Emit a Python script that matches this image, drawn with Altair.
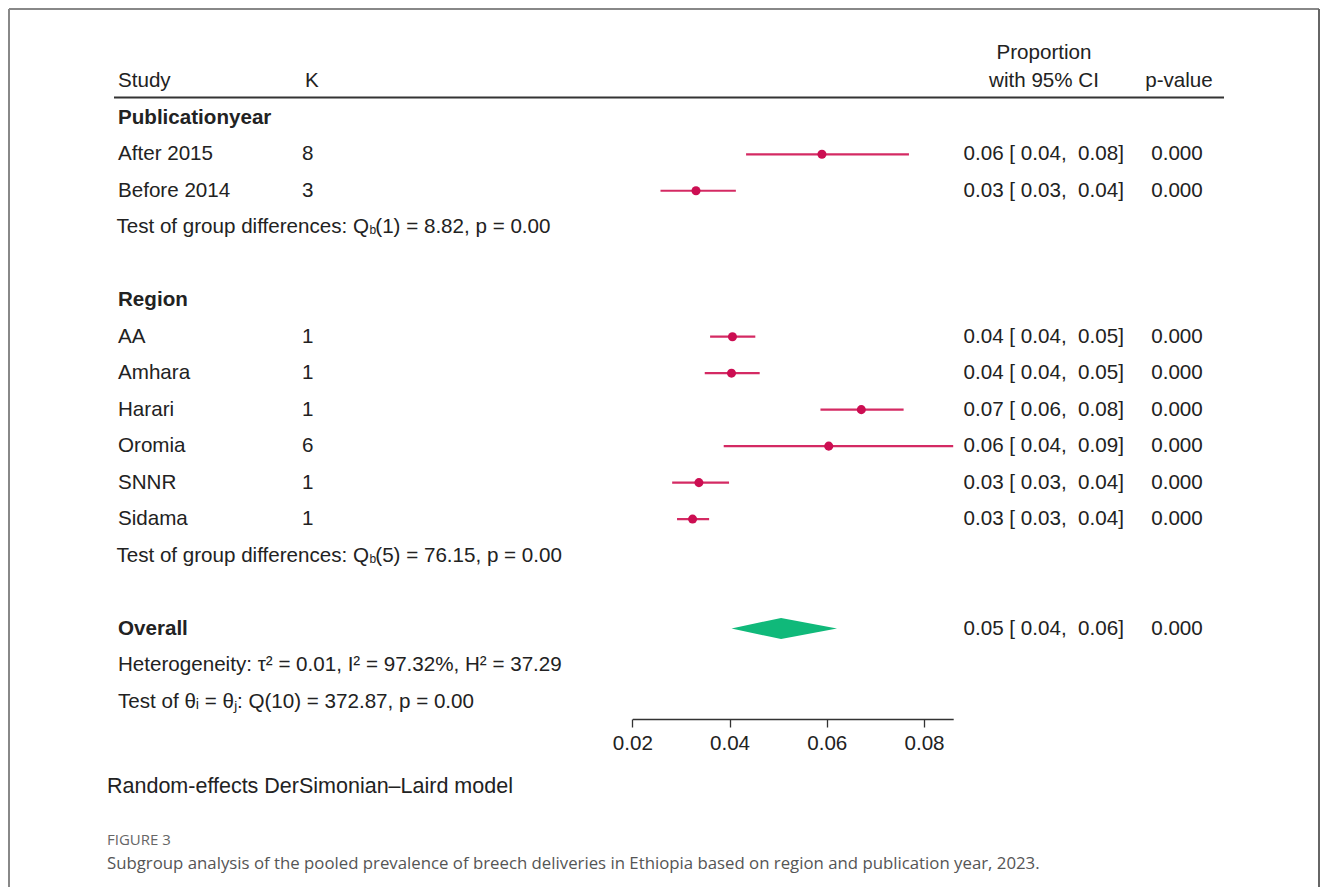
import altair as alt
import pandas as pd

# ---- data ----
study = ["After 2015", "Before 2014", "AA", "Amhara", "Harari", "Oromia", "SNNR", "Sidama"]
k_val = ["8", "3", "1", "1", "1", "6", "1", "1"]
est = [0.0590, 0.0331, 0.0406, 0.0404, 0.0671, 0.0604, 0.0337, 0.0324]
lo = [0.0434, 0.0258, 0.0360, 0.0349, 0.0587, 0.0388, 0.0282, 0.0292]
hi = [0.0769, 0.0413, 0.0453, 0.0462, 0.0758, 0.0890, 0.0399, 0.0358]
NB = "\u00a0"
ci_text = [f"0.06 [ 0.04,{NB}{NB}0.08]", f"0.03 [ 0.03,{NB}{NB}0.04]", f"0.04 [ 0.04,{NB}{NB}0.05]",
           f"0.04 [ 0.04,{NB}{NB}0.05]", f"0.07 [ 0.06,{NB}{NB}0.08]", f"0.06 [ 0.04,{NB}{NB}0.09]",
           f"0.03 [ 0.03,{NB}{NB}0.04]", f"0.03 [ 0.03,{NB}{NB}0.04]"]
p_text = ["0.000"] * 8
study_row = [1, 2, 6, 7, 8, 9, 10, 11]

group_heads = ["Publicationyear", "Region", "Overall"]
group_rows = [0, 5, 14]

test_pre = ["Test of group differences: Q", "Test of group differences: Q"]
test_post = ["(1) = 8.82, p = 0.00", "(5) = 76.15, p = 0.00"]
test_rows = [3, 12]

notes = ["Heterogeneity: τ² = 0.01, I² = 97.32%, H² = 37.29",
         "Test of θᵢ = θⱼ: Q(10) = 372.87, p = 0.00"]
note_rows = [15, 16]

overall_est, overall_lo, overall_hi = 0.0506, 0.0404, 0.0621
overall_ci = f"0.05 [ 0.04,{NB}{NB}0.06]"
overall_p = "0.000"
overall_row = 14

x_ticks = [0.02, 0.04, 0.06, 0.08]
x_domain = [0.02, 0.086]

FONT = "Liberation Sans"
FS = 20.6
TXT = "#222222"

df = pd.DataFrame({"study": study, "k": k_val, "est": est, "lo": lo, "hi": hi,
                   "ci": ci_text, "p": p_text, "row": study_row})
heads = pd.DataFrame({"t": group_heads, "row": group_rows})
tests = pd.DataFrame({"pre": test_pre, "post": test_post, "row": test_rows})
notes_df = pd.DataFrame({"t": notes, "row": note_rows})
ov_txt = pd.DataFrame({"ci": [overall_ci], "p": [overall_p], "row": [overall_row]})
diamond = pd.DataFrame({"x": [overall_lo, overall_est, overall_hi],
                        "k": [0, 1, 0], "row": [overall_row] * 3})

yscale = alt.Scale(domain=[0, 16], range=[109.8, 693.5])
xscale = alt.Scale(domain=x_domain, range=[624.3, 945.2], nice=False, zero=False, clamp=True)
xaxis = alt.Axis(values=x_ticks, format=".2f", title=None, grid=False,
                 labelFont=FONT, labelFontSize=FS, labelColor=TXT, labelPadding=6,
                 tickSize=8, tickColor="#333", tickWidth=1.3,
                 domainColor="#333", domainWidth=1.3, labelFlush=False)

Y = alt.Y("row:Q", scale=yscale, axis=None)


def txt(data, field, x, align="left", bold=False, size=FS):
    return alt.Chart(data).mark_text(align=align, baseline="middle", font=FONT,
                                     fontSize=size, color=TXT,
                                     fontWeight="bold" if bold else "normal").encode(
        x=alt.value(x), y=Y, text=f"{field}:N")


ci_rules = alt.Chart(df).mark_rule(color="#d42a63", strokeWidth=2.2).encode(
    x=alt.X("lo:Q", scale=xscale, axis=xaxis), x2="hi:Q", y=Y)
points = alt.Chart(df).mark_circle(color="#cc0e52", opacity=1, size=82).encode(
    x=alt.X("est:Q", scale=xscale, axis=xaxis), y=Y)
dia = alt.Chart(diamond).transform_calculate(
    ytop="datum.row - 0.29*datum.k", ybot="datum.row + 0.29*datum.k"
).mark_area(color="#10b97a", orient="vertical", opacity=1).encode(
    x=alt.X("x:Q", scale=xscale, axis=xaxis),
    y=alt.Y("ytop:Q", scale=yscale, axis=None), y2="ybot:Q")

layers = [
    ci_rules, points, dia,
    txt(df, "study", 110), txt(df, "k", 294),
    txt(df, "ci", 1035.7, align="center"), txt(df, "p", 1169, align="center"),
    txt(heads, "t", 110, bold=True),
    txt(tests, "pre", 361, align="right"),
    alt.Chart(tests).mark_text(align="left", baseline="middle", font=FONT, fontSize=12,
                               color=TXT, dy=3).encode(x=alt.value(361.5), y=Y, text=alt.value("b")),
    txt(tests, "post", 367.3),
    txt(notes_df, "t", 110),
    txt(ov_txt, "ci", 1035.7, align="center"), txt(ov_txt, "p", 1169, align="center"),
]


def label(text, x, y, align="left", size=FS, color=TXT, font=FONT, weight="normal"):
    return alt.Chart(pd.DataFrame({"t": [text]})).mark_text(
        align=align, baseline="middle", font=font, fontSize=size, color=color,
        fontWeight=weight).encode(x=alt.value(x), y=alt.value(y), text="t:N")


header = [
    label("Study", 110, 73), label("K", 297, 73),
    label("Proportion", 1036, 44.5, align="center"),
    label("with 95% CI", 1036, 73, align="center"),
    label("p-value", 1171, 73, align="center"),
    label("Random-effects DerSimonian\u2013Laird model", 99, 779, size=21.5),
    label("FIGURE 3", 99, 831.5, size=15, color="#666666", font="Open Sans"),
    label("Subgroup analysis of the pooled prevalence of breech deliveries in Ethiopia "
          "based on region and publication year, 2023.", 99, 856, size=16.8,
          color="#555555", font="Open Sans"),
]

head_line = alt.Chart(pd.DataFrame({"a": [0]})).mark_rule(color="#333", strokeWidth=2).encode(
    x=alt.value(106), x2=alt.value(1216), y=alt.value(89.5))
frame = [
    alt.Chart(pd.DataFrame({"a": [0]})).mark_rule(color="#888", strokeWidth=2).encode(
        x=alt.value(1), y=alt.value(1), y2=alt.value(900)),
    alt.Chart(pd.DataFrame({"a": [0]})).mark_rule(color="#888", strokeWidth=2).encode(
        x=alt.value(1), x2=alt.value(1311), y=alt.value(1)),
    alt.Chart(pd.DataFrame({"a": [0]})).mark_rule(color="#666", strokeWidth=2).encode(
        x=alt.value(1311), y=alt.value(1), y2=alt.value(900)),
]

chart = alt.layer(*frame, head_line, *layers, *header).properties(
    width=1312, height=711,
    autosize=alt.AutoSizeParams(type="none"),
    padding={"left": 0, "top": 0, "right": 0, "bottom": 168},
    background="white",
).configure_view(stroke=None, strokeWidth=0)

chart.save("out.html", embed_options={"renderer": "svg", "actions": False})
